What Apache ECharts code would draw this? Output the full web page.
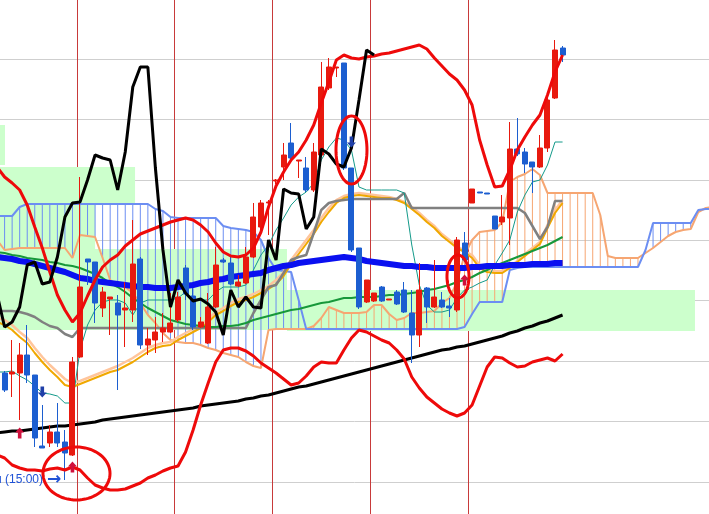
<!DOCTYPE html>
<html><head><meta charset="utf-8">
<script src="https://cdn.jsdelivr.net/npm/echarts@6/dist/echarts.min.js"></script>
<style>html,body{margin:0;padding:0;background:#fff}#c{width:709px;height:514px}</style>
</head><body><div id="c"></div>
<script>
// ---- candles (index 0..74) ----
const opens = [16.7,16.6,16.7,18.5,16.5,9.4,9.7,10.8,9.8,8.5, 18.3,28.1,27.8,23.2,24.1,23.7,23.0,23.0,28.1,19.5, 20.0,20.8,20.8,22.0,27.2,24.4,21.3,19.7,23.3,28.0, 27.7,25.4,25.7,28.3,31.3,33.7,35.9,37.3,39.7,37.9, 37.2,35.0,38.5,45.2,47.2,47.7,37.2,29.2,23.8,23.9, 25.3,24.0,24.8,25.0,22.7,20.5,25.2,23.3,24.0,23.4, 23.0,29.7,33.7,34.8,34.7,32.4,31.8,32.2,39.1,38.8, 37.8,37.3,39.2,44.2,49.2];
const closes = [15.0,16.8,18.5,16.5,10.2,9.2,10.8,9.7,8.7,17.8, 25.3,27.8,23.7,24.8,24.3,22.5,23.2,27.6,19.5,20.1, 20.8,21.2,21.7,24.3,24.6,21.3,21.8,23.3,27.5,27.8, 25.6,25.8,28.3,32.3,33.7,33.8,36.0,38.5,38.2,38.0, 35.0,38.8,45.3,47.3,47.3,37.2,29.0,23.3,26.0,24.7, 23.9,24.1,23.6,22.8,20.5,25.0,23.3,24.3,23.3,23.2, 30.0,28.0,35.1,34.7,34.6,31.1,32.3,39.1,38.6,37.6, 37.3,39.2,44.0,49.0,48.5];
const lows = [14.8,14.3,12.0,15.7,9.3,9.2,9.3,9.3,6.0,8.4, 18.2,25.5,21.7,22.3,20.5,15.0,19.3,21.8,19.1,18.5, 18.7,19.8,20.7,21.8,24.0,21.0,21.2,19.6,23.2,27.7, 25.5,25.3,25.6,28.2,31.0,30.5,35.6,36.0,38.0,36.2, 34.8,34.8,38.3,45.0,46.3,37.0,28.8,23.1,23.7,23.8, 23.8,24.0,23.5,22.7,17.7,19.3,21.7,23.2,23.2,22.3, 22.8,27.8,33.7,34.7,34.6,31.1,31.5,29.5,38.4,36.7, 34.7,37.2,38.8,44.1,47.8];
const highs = [16.9,20.0,19.7,21.5,16.5,13.5,11.5,13.7,11.0,18.3, 36.3,28.1,27.8,25.3,24.3,24.5,25.8,32.0,28.3,21.2, 22.3,22.7,24.7,24.8,27.5,25.2,22.3,24.7,29.3,28.2, 28.3,26.5,29.3,33.7,34.0,34.0,36.1,39.7,41.7,38.0, 38.3,39.7,47.8,48.2,47.3,47.7,37.2,29.2,26.0,24.7, 25.4,24.1,25.0,25.8,25.0,27.7,25.3,28.0,24.8,24.2, 30.3,30.8,35.1,34.8,34.7,32.4,34.5,41.8,42.2,39.2, 37.8,40.5,44.2,50.0,49.4];

// ---- indicator lines (index -1..74) ----
const bbUpper = [37.3,36.3,35.7,35.0,33.5,31.3,29.2,26.8,24.5,23.0, 21.8,22.7,24.4,26.0,27.3,28.0,28.5,29.4,30.0,30.6, 30.9,31.2,31.5,31.8,32.0,32.2,32.0,31.5,30.8,29.7, 28.8,28.4,28.3,28.5,29.2,30.8,33.3,35.4,36.8,38.0, 38.8,40.0,41.5,43.7,45.8,48.0,48.5,48.2,48.1,48.3, 48.4,48.6,48.7,48.9,49.1,49.3,49.5,49.1,48.2,47.4, 46.6,46.0,45.0,43.5,40.0,37.5,35.3,35.4,37.0,39.0, 40.3,41.5,42.5,44.5,46.8,48.5];
const bbLower = [8.5,8.2,7.5,7.2,7.0,7.0,6.9,7.1,7.2,7.0, 7.3,7.0,6.2,5.5,5.2,5.0,5.0,5.1,5.4,5.7, 6.2,6.5,6.9,7.2,7.4,8.8,11.0,13.5,15.7,17.8, 19.0,19.2,19.2,18.9,18.4,17.7,17.2,16.7,16.1,15.5, 15.7,16.4,17.3,17.8,17.7,17.7,19.0,20.2,21.0,20.8, 20.4,20.0,19.7,19.0,18.1,16.3,15.2,14.3,13.7,13.1, 12.7,12.4,12.7,13.5,15.4,17.3,18.3,18.2,17.7,17.3, 17.4,17.8,18.0,18.2,17.9,18.6];
const maLong = [10.7,10.8,10.9,10.9,11.0,11.1,11.2,11.3,11.4,11.4, 11.5,11.6,11.7,11.8,12.0,12.1,12.2,12.3,12.4,12.5, 12.6,12.7,12.8,12.9,13.0,13.1,13.2,13.4,13.5,13.6, 13.7,13.8,13.9,14.1,14.2,14.4,14.5,14.7,14.9,15.1, 15.3,15.4,15.6,15.8,16.0,16.2,16.4,16.6,16.8,17.0, 17.2,17.4,17.6,17.8,18.0,18.2,18.4,18.6,18.8,19.0, 19.1,19.3,19.4,19.6,19.8,20.0,20.2,20.4,20.7,20.9, 21.2,21.4,21.7,21.9,22.2,22.5];
const maBlue = [28.3,28.2,28.1,27.9,27.8,27.6,27.4,27.2,27.0,26.8, 26.5,26.2,26.1,25.9,25.8,25.7,25.6,25.5,25.4,25.3, 25.3,25.2,25.2,25.2,25.3,25.4,25.5,25.7,25.8,26.0, 26.1,26.3,26.4,26.5,26.6,26.7,27.0,27.2,27.4,27.5, 27.7,27.8,27.9,28.0,28.1,28.2,28.3,28.2,28.1,27.9, 27.8,27.7,27.6,27.5,27.4,27.4,27.3,27.3,27.2,27.2, 27.2,27.2,27.2,27.3,27.3,27.4,27.4,27.4,27.5,27.5, 27.5,27.6,27.6,27.6,27.7,27.7];
const maGreen = [28.8,28.7,28.5,28.4,28.2,28.1,28.0,27.8,27.7,27.5, 27.4,27.2,26.9,26.6,26.2,25.7,25.3,24.8,24.2,23.7, 23.2,22.8,22.4,22.0,21.8,21.6,21.5,21.4,21.3,21.3, 21.4,21.4,21.5,21.7,22.0,22.2,22.4,22.6,22.8,23.0, 23.1,23.3,23.5,23.7,23.8,24.0,24.2,24.2,24.3,24.3, 24.3,24.4,24.5,24.5,24.6,24.7,24.8,25.0,25.1,25.3, 25.5,25.8,26.0,26.3,26.7,27.0,27.4,27.7,28.0,28.3, 28.6,28.9,29.2,29.5,29.9,30.3];
const kijun = [22.9,22.9,22.9,22.8,22.6,22.3,21.8,21.4,21.2,20.6, 20.3,21.2,21.2,21.2,21.2,21.2,21.2,21.2,21.2,21.2, 21.2,21.2,21.2,21.2,21.2,21.2,21.2,21.2,21.2,21.2, 21.2,21.2,21.2,21.2,22.7,24.0,25.3,25.5,26.7,28.0, 28.3,28.5,30.7,33.0,33.7,33.9,34.0,34.1,34.1,34.1, 34.1,34.1,34.1,34.1,34.7,33.2,33.2,33.2,33.2,33.2, 33.2,33.2,33.2,33.2,33.2,33.2,33.2,33.2,33.2,33.2, 32.7,31.4,30.1,31.3,33.9,33.9];
const tenkan = [16.8,16.8,16.9,16.4,16.0,15.4,14.7,14.6,14.4,13.7, 13.7,19.0,21.5,23.0,23.8,24.0,24.0,23.7,22.5,23.7, 24.0,24.0,24.0,24.0,24.2,24.8,24.0,24.0,24.0,24.8, 25.3,25.3,25.3,25.5,27.0,28.5,29.5,31.0,32.2,33.5, 34.3,34.8,35.7,38.0,39.3,40.2,40.0,39.0,35.3,35.0, 35.0,35.0,35.0,35.0,34.7,29.5,25.5,23.5,22.8,22.8, 23.0,24.2,25.0,25.3,25.7,26.0,27.5,28.7,30.0,32.8, 34.5,35.8,36.0,37.5,39.8,39.8];
const maGold = [21.8,21.5,21.0,20.3,19.7,18.7,17.8,17.0,16.3,15.5, 15.3,15.6,15.9,16.2,16.5,16.8,17.0,17.4,17.8,18.3, 18.8,19.2,19.4,19.5,20.0,20.4,20.8,21.2,21.8,22.5, 22.9,23.4,23.8,24.0,24.3,24.7,25.1,25.6,26.4,27.6, 28.6,29.6,30.6,31.8,32.8,33.7,34.2,34.4,34.5,34.4, 34.3,34.2,34.2,34.0,33.7,33.1,32.5,31.8,31.2,30.4, 29.8,29.2,28.8,28.2,27.2,26.8,26.7,26.7,27.2,27.8, 28.4,29.0,29.6,31.2,32.7,33.7];
const maPeach = [22.2,22.0,21.5,20.8,20.2,19.2,18.3,17.5,16.8,16.1, 15.7,15.9,16.2,16.5,16.8,17.1,17.4,17.8,18.2,18.7, 19.2,19.5,19.7,19.8,20.3,20.7,21.1,21.5,22.1,22.8, 23.2,23.7,24.1,24.3,24.6,25.0,25.4,26.0,26.8,28.0, 29.0,30.0,31.0,32.2,33.2,34.0,34.4,34.6,34.7,34.6, 34.5,34.4,34.3,34.1,33.8,33.3,32.7,32.0,31.4,30.6, 30.0,29.4,28.9,28.5,27.5,27.1,26.9,26.9,27.3,27.9, 28.6,29.2,29.8,31.5,33.0,34.0];

// ---- cloud spans (index -1..94) ----
const spanA = [32.4,32.4,32.4,33.3,33.6,33.6,33.6,33.6,33.6,33.6, 33.6,33.6,33.6,33.6,33.6,33.6,33.6,33.6,33.6,33.6, 33.6,33.1,32.9,32.3,32.2,32.2,32.2,32.2,32.2,32.2, 31.4,31.2,31.1,31.0,30.8,30.0,28.2,27.0,26.9,26.8, 24.0,21.1,21.1,21.1,21.1,21.1,21.1,21.1,21.1,21.1, 21.1,21.1,21.1,21.1,21.1,21.1,21.1,21.1,21.1,21.1, 21.1,21.1,21.3,22.6,23.8,23.8,23.8,23.8,27.0,27.2, 27.3,27.3,27.3,27.3,27.3,27.3,27.3,27.3,27.3,27.3, 27.3,27.3,27.3,27.3,27.3,27.3,29.0,31.7,31.7,31.7, 31.7,31.7,31.7,33.0,33.1,33.1];
const spanB = [30.0,29.0,29.1,29.2,29.2,29.2,29.2,29.2,29.2,29.2, 28.2,30.5,30.4,30.3,28.2,26.0,25.5,25.3,24.7,23.7, 22.5,21.7,20.7,20.0,19.8,19.7,19.7,19.5,19.2,19.0, 18.7,18.5,18.3,17.8,17.4,17.2,21.0,21.1,21.1,21.1, 21.1,21.1,21.4,22.2,23.3,23.0,22.7,22.7,22.7,22.8, 23.5,23.5,22.6,22.0,22.2,22.7,22.7,22.8,22.9,23.7, 24.2,25.8,28.5,30.0,30.8,30.9,31.0,31.8,35.8,36.3, 36.6,37.1,36.5,34.7,34.7,34.7,34.7,34.7,34.7,34.7, 32.5,28.4,28.2,28.2,28.2,28.2,28.7,29.2,29.8,30.4, 30.8,31.0,31.1,32.8,33.2,33.3];

// ---- reference levels, zones, signals, annotations ----
const gridLevels = [48.1, 42.1, 36.0, 30.0, 24.0, 17.9, 11.9, 5.8];
const daySeparators = [9.58, 22.56, 35.54, 48.52, 61.5];
const zones = [[-1, 41.5, 0.05, 37.5], [-1, 37.3, 17.3, 33.5], [-1, 33.5, 12.0, 29.1], [-1, 29.1, 37.45, 21.0], [37.45, 25.0, 91.56, 20.9]];
const upSignals = [[2, 10.7], [9, 7.3], [61, 26.0]];
const downSignals = [[5, 14.8], [46, 39.8]];
const circles = [[5.09, 13.98, 4.0, 9.3], [43.95, 48.06, 35.6, 42.4], [58.67, 61.59, 24.2, 28.5]];
const timeLabel = 'u (15:00)';
const timeArrow = '\u2192';

const RED = '#e8190e', BLUE = '#1c5ed0', CORN = '#6c8ef2', SALMON = '#f6a672';
const withIdx = (arr, start) => arr.map((v, k) => [k + start, v]);
const candleData = opens.map((o, i) => [i, o, closes[i], lows[i], highs[i]]);
const chikou = closes.slice(24).map((v, k) => [k - 1, v]);

function lineSeries(arr, color, width, z) {
  return { type: 'line', data: withIdx(arr, -1), symbol: 'none', silent: true, z: z,
    lineStyle: { color: color, width: width }, itemStyle: { color: color } };
}

const chart = echarts.init(document.getElementById('c'));
chart.setOption({
  animation: false,
  backgroundColor: '#ffffff',
  grid: { left: 0, right: 0, top: 0, bottom: 0 },
  xAxis: { type: 'value', min: -0.61, max: 93.42, show: false },
  yAxis: { type: 'value', min: 2.6, max: 54, show: false },
  graphic: [
    { type: 'text', x: -5, y: 480, z: 20,
      style: { text: timeLabel, fill: '#1f52d6', font: '12px "Liberation Sans", Arial, sans-serif', verticalAlign: 'middle' } },
    { type: 'text', x: 47, y: 480, z: 20,
      style: { text: timeArrow, fill: '#1f52d6', font: 'bold 17px "DejaVu Sans", sans-serif', verticalAlign: 'middle' } }
  ],
  series: [
    { type: 'line', data: [], silent: true, z: 0,
      markLine: { silent: true, z: 0, symbol: ['none', 'none'], label: { show: false },
        lineStyle: { color: '#cfcfcf', width: 1, type: 'solid' },
        data: gridLevels.map(v => ({ yAxis: v })) } },
    { type: 'line', data: [], silent: true, z: 0,
      markLine: { silent: true, z: 0, symbol: ['none', 'none'], label: { show: false },
        lineStyle: { color: '#c83a3a', width: 1, type: 'solid' },
        data: daySeparators.map(v => ({ xAxis: v })) } },
    { type: 'line', data: [], silent: true, z: 1,
      markArea: { silent: true, z: 1, itemStyle: { color: '#ccffcc', opacity: 1 },
        data: zones.map(r => [{ coord: [r[0], r[1]] }, { coord: [r[2], r[3]] }]) } },
    { type: 'custom', z: 2, silent: true, clip: true,
      data: spanA.map((a, k) => [k - 1, a, spanB[k]]),
      encode: { x: 0, y: [1, 2] },
      renderItem: function (params, api) {
        const x = api.value(0), a = api.value(1), b = api.value(2);
        const p1 = api.coord([x, a]), p2 = api.coord([x, b]);
        return { type: 'line', shape: { x1: p1[0], y1: p1[1], x2: p2[0], y2: p2[1] },
          style: { stroke: a > b ? CORN : SALMON, lineWidth: 1 } };
      } },
    lineSeries(spanB, SALMON, 2, 3),
    lineSeries(spanA, CORN, 2, 3),
    lineSeries(maPeach, '#ffc59c', 2.5, 4),
    lineSeries(maGold, '#f0a800', 2, 4),
    lineSeries(kijun, '#808080', 2.5, 4),
    lineSeries(maGreen, '#17983a', 2, 4),
    lineSeries(tenkan, '#149a8a', 1, 4),
    lineSeries(maBlue, '#0a10f0', 6, 4),
    lineSeries(maLong, '#000000', 3, 4),
    { type: 'candlestick', data: candleData, encode: { x: 0, y: [1, 2, 3, 4] }, z: 5, silent: true,
      barWidth: 5.5,
      itemStyle: { color: RED, color0: BLUE, borderColor: RED, borderColor0: BLUE, borderWidth: 1 } },
    lineSeries(bbUpper, '#ee0a0a', 3, 6),
    lineSeries(bbLower, '#ee0a0a', 3, 6),
    { type: 'line', data: chikou, symbol: 'none', silent: true, z: 6, lineStyle: { color: '#000', width: 3 } },
    { type: 'custom', z: 7, silent: true, data: circles, encode: { x: [0, 1], y: [2, 3] },
      renderItem: function (params, api) {
        const a = api.coord([api.value(0), api.value(3)]);
        const b = api.coord([api.value(1), api.value(2)]);
        const cx = (a[0] + b[0]) / 2, cy = (a[1] + b[1]) / 2;
        const rx = Math.abs(b[0] - a[0]) / 2, ry = Math.abs(b[1] - a[1]) / 2;
        const pts = [];
        for (let t = 0; t < 72; t++) { const th = t / 72 * Math.PI * 2; pts.push([cx + rx * Math.cos(th), cy + ry * Math.sin(th)]); }
        return { type: 'polygon', shape: { points: pts }, style: { fill: 'none', stroke: '#ee0a0a', lineWidth: 3 } };
      } },
    { type: 'scatter', data: upSignals, z: 8, silent: true, symbol: 'path://M5,0L10,5L7,5L7,11L3,11L3,5L0,5Z',
      symbolSize: [9, 11], itemStyle: { color: '#d1103c', opacity: 1 } },
    { type: 'scatter', data: downSignals, z: 8, silent: true, symbol: 'path://M3,0L7,0L7,6L10,6L5,11L0,6L3,6Z',
      symbolSize: [9, 11], itemStyle: { color: '#1f3fa8', opacity: 1 } }
  ]
});
</script></body></html>
